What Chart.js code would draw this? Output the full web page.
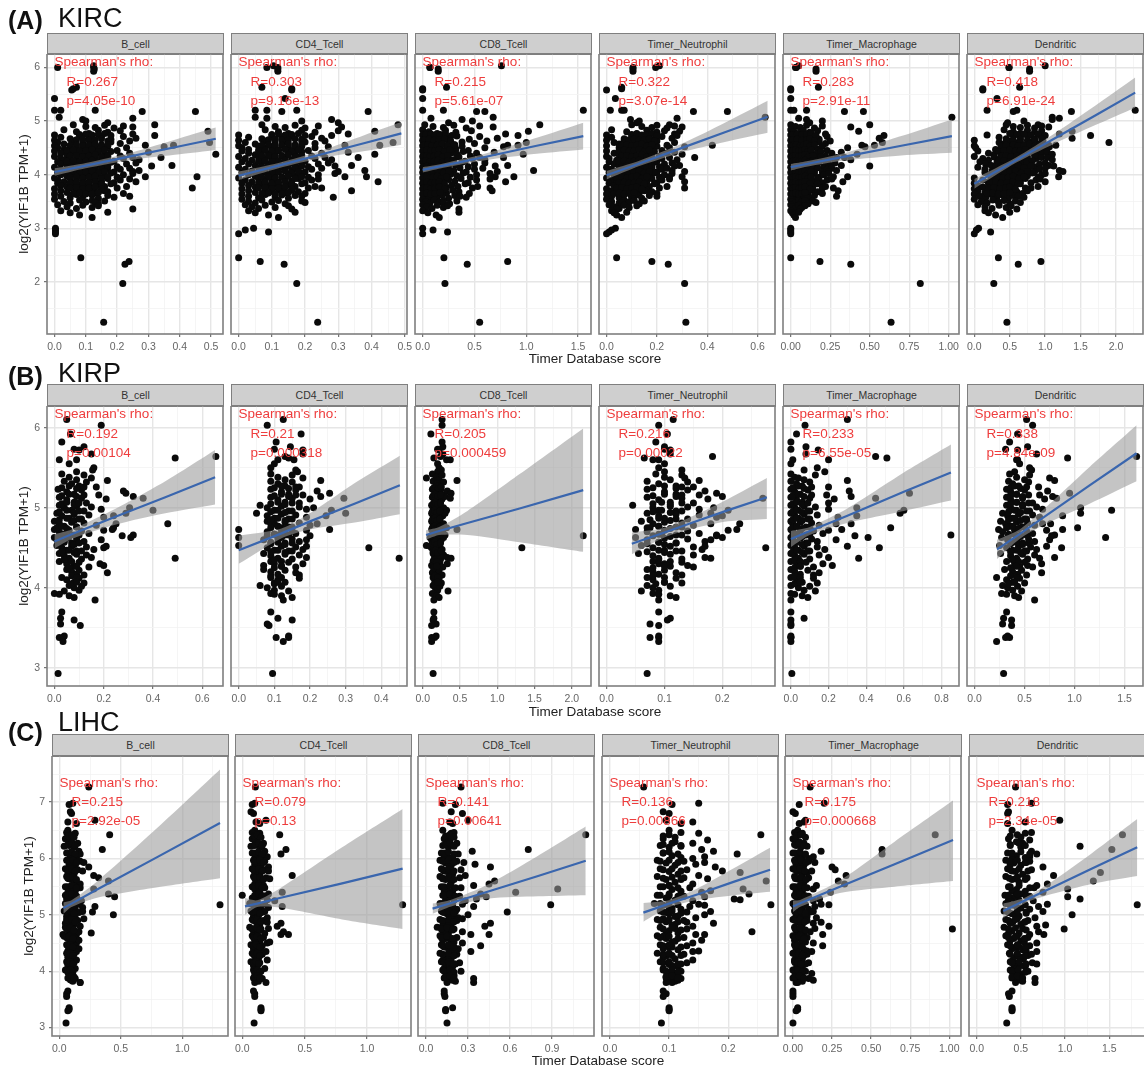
<!DOCTYPE html>
<html><head><meta charset="utf-8">
<script src="https://cdn.jsdelivr.net/npm/chart.js@4"></script>
<style>
html,body{margin:0;padding:0;background:#fff;width:1144px;height:1069px;overflow:hidden}
#page{position:relative;width:1144px;height:1069px;overflow:hidden;font-family:"Liberation Sans",Arial,sans-serif;filter:blur(0.4px)}
#page canvas{position:absolute}
.t{position:absolute;white-space:nowrap;line-height:1}
.strip{position:absolute;box-sizing:border-box;background:#cfcfcf;border:1.5px solid #7f7f7f;border-bottom-width:2px;color:#333;font-size:10.5px;display:flex;align-items:center;justify-content:center}
.red{color:#ee3d3d;font-size:13.5px}
</style></head><body><div id="page"></div>
<script>
const cellTypes=['B_cell','CD4_Tcell','CD8_Tcell','Timer_Neutrophil','Timer_Macrophage','Dendritic'];

/* ---------- KIRC ---------- */
const yKIRC=[6.03,6.0,6.0,5.97,5.93,5.63,5.6,5.58,5.42,5.2,5.2,5.2,5.18,5.18,5.07,5.05,5.03,5.0,4.97,4.93,
4.93,4.9,4.88,4.92,4.87,4.91,4.89,
4.84,4.8,4.77,4.83,4.79,4.82,4.76,4.81,
4.74,4.7,4.67,4.73,4.69,4.72,4.66,4.71,4.68,4.73,
4.64,4.6,4.57,4.63,4.59,4.62,4.56,4.61,4.58,4.63,4.55,4.6,
4.54,4.5,4.47,4.53,4.49,4.52,4.46,4.51,4.48,4.53,4.45,4.5,4.52,4.55,
4.44,4.4,4.37,4.43,4.39,4.42,4.36,4.41,4.38,4.43,4.35,4.4,4.42,4.38,
4.34,4.3,4.27,4.33,4.29,4.32,4.26,4.31,4.28,4.33,4.25,4.3,4.32,4.32,4.28,
4.24,4.2,4.17,4.23,4.19,4.22,4.16,4.21,4.18,4.23,4.15,4.2,4.22,4.17,4.16,
4.14,4.1,4.07,4.13,4.09,4.12,4.06,4.11,4.08,4.13,4.05,4.1,4.12,4.08,4.06,
4.04,4.0,3.97,4.03,3.99,4.02,3.96,4.01,3.98,4.03,3.95,4.0,4.02,3.96,3.96,
3.94,3.9,3.87,3.93,3.89,3.92,3.86,3.91,3.88,3.93,3.85,3.9,3.92,3.87,
3.84,3.8,3.77,3.83,3.79,3.82,3.76,3.81,3.78,3.83,3.75,3.75,3.78,
3.74,3.7,3.67,3.73,3.69,3.72,3.66,3.71,3.68,3.65,3.7,
3.64,3.6,3.57,3.63,3.59,3.62,3.56,3.61,3.6,3.58,
3.54,3.5,3.47,3.53,3.49,3.52,3.46,3.51,3.48,
3.44,3.4,3.37,3.43,3.39,3.42,3.36,
3.33,3.29,3.25,3.2,3.3,
3.0,2.97,2.93,2.9,2.45,2.38,2.33,1.97,1.25,
4.75,4.76,4.74,4.75,4.77,4.73,
4.65,4.66,4.64,4.65,4.67,4.63,
4.55,4.56,4.54,4.55,4.57,4.53,4.56,
4.45,4.46,4.44,4.45,4.47,4.43,4.46,
4.35,4.36,4.34,4.35,4.37,4.33,4.36,
4.25,4.26,4.24,4.25,4.27,4.23,4.26,
4.15,4.16,4.14,4.15,4.17,4.13,4.16,
4.05,4.06,4.04,4.05,4.07,4.03,4.06,
3.95,3.96,3.94,3.95,3.97,3.93,3.96,
3.85,3.86,3.84,3.85,3.87,3.83,
3.75,3.76,3.74,3.75,3.77,3.73,
3.65,3.66,3.64,3.65,3.67];
const xKIRC_B=[.125,.01,.125,.127,.125,.07,.06,.055,0,0,.02,.13,.28,.45,.015,.25,.09,.1,.17,.32,
.06,.1,.13,.16,.19,.22,.25,
.03,.07,.11,.14,.17,.21,.25,.49,
0,.02,.05,.08,.11,.15,.18,.22,.26,.32,
0,.01,.03,.06,.09,.12,.15,.18,.21,.24,.29,.495,
0,.01,.03,.05,.07,.09,.11,.13,.15,.17,.2,.23,.35,.38,
0,.02,.04,.06,.08,.1,.12,.14,.16,.18,.21,.24,.3,.515,
0,.02,.03,.05,.07,.09,.11,.13,.15,.17,.19,.22,.25,.34,.27,
.01,.02,.04,.06,.08,.1,.12,.14,.16,.18,.2,.23,.26,.375,.31,
0,.02,.03,.05,.07,.09,.11,.13,.15,.17,.19,.21,.24,.27,.25,
.01,.02,.04,.06,.08,.1,.12,.14,.16,.18,.2,.22,.25,.29,.455,
0,.01,.03,.05,.07,.09,.11,.13,.15,.17,.19,.21,.24,.26,
.01,.02,.04,.06,.08,.1,.12,.14,.16,.18,.2,.44,.23,
0,.02,.04,.07,.09,.11,.13,.15,.17,.22,.16,
0,.02,.05,.07,.09,.12,.14,.17,.24,.19,
0,.03,.05,.08,.1,.12,.14,.16,.13,
.01,.04,.07,.09,.12,.14,.25,
.02,.05,.08,.12,.17,
.003,.003,.003,.003,.084,.238,.225,.218,.157,
.08,.1,.12,.14,.16,.18,
.07,.09,.11,.13,.15,.17,
.05,.07,.09,.11,.13,.15,.17,
.04,.06,.08,.1,.12,.14,.16,
.05,.07,.09,.11,.13,.15,.17,
.04,.06,.08,.1,.12,.14,.16,
.05,.07,.09,.11,.13,.15,.17,
.04,.06,.08,.1,.12,.14,.16,
.05,.07,.09,.11,.13,.15,.17,
.05,.07,.09,.11,.13,.15,
.05,.07,.09,.11,.13,.15,
.06,.08,.1,.12,.14];
const xKIRC_CD4=[.105,.085,.118,.118,.118,.07,.16,.16,.14,.05,.085,.175,.39,.13,.05,.085,.28,.19,.3,.48,
.07,.11,.14,.17,.2,.24,.31,
.08,.12,.15,.19,.23,.3,.33,.41,
0,.03,.07,.1,.13,.16,.19,.22,.25,.28,
0,.02,.05,.08,.11,.14,.17,.2,.23,.26,.32,.465,
0,.01,.03,.06,.08,.1,.12,.15,.17,.19,.21,.23,.27,.425,
.01,.03,.05,.07,.09,.11,.13,.15,.17,.19,.22,.25,.33,.41,
0,.02,.04,.06,.08,.1,.12,.14,.16,.18,.2,.23,.26,.36,.28,
.01,.03,.05,.07,.09,.11,.13,.15,.17,.19,.21,.24,.27,.34,.29,
0,.02,.04,.06,.08,.1,.12,.14,.16,.18,.2,.22,.25,.38,.3,
.01,.03,.05,.07,.09,.11,.13,.15,.17,.19,.21,.24,.29,.385,.32,
0,.02,.04,.06,.08,.1,.12,.14,.16,.18,.2,.22,.24,.42,
.01,.03,.05,.07,.09,.11,.13,.15,.17,.19,.21,.25,.23,
.01,.03,.05,.08,.1,.12,.14,.16,.18,.2,.34,
.01,.03,.06,.08,.11,.13,.15,.17,.19,.285,
.01,.03,.05,.07,.1,.12,.14,.19,.2,
.02,.04,.06,.08,.11,.15,.16,
.03,.05,.09,.12,.17,
.045,.02,.09,0,0,.065,.137,.175,.238,
.1,.12,.14,.16,.18,.2,
.09,.11,.13,.15,.17,.19,
.07,.09,.11,.13,.15,.17,.19,
.06,.08,.1,.12,.14,.16,.18,
.07,.09,.11,.13,.15,.17,.19,
.06,.08,.1,.12,.14,.16,.18,
.07,.09,.11,.13,.15,.17,.19,
.06,.08,.1,.12,.14,.16,.18,
.07,.09,.11,.13,.15,.17,.19,
.06,.08,.1,.12,.14,.16,
.06,.08,.1,.12,.14,.16,
.07,.09,.11,.13,.15];
const xKIRC_CD8=[.76,.07,.07,.15,.15,.23,0,0,0,0,.2,1.55,.52,.6,.68,.08,.38,.48,.25,1.13,
.02,.1,.2,.3,.42,.55,.68,
0,.06,.14,.22,.32,.47,.8,1.02,
0,.04,.1,.16,.24,.33,.45,.55,.72,.92,
0,.03,.08,.13,.19,.25,.31,.38,.5,.62,.82,1.0,
0,.02,.05,.09,.13,.17,.22,.27,.32,.38,.44,.6,.78,.92,
0,.03,.06,.1,.14,.18,.23,.28,.33,.39,.46,.52,.69,.97,
0,.02,.05,.08,.12,.16,.2,.25,.3,.35,.41,.48,.55,.78,.6,
0,.03,.06,.09,.13,.17,.22,.27,.32,.38,.44,.5,.6,.82,.7,
0,.02,.05,.08,.12,.16,.2,.25,.3,.36,.42,.5,.58,1.07,.72,
0,.03,.06,.09,.13,.17,.22,.27,.33,.39,.46,.52,.65,.88,.7,
0,.02,.05,.08,.12,.16,.2,.25,.31,.37,.44,.52,.65,.8,
0,.03,.06,.1,.14,.18,.23,.28,.34,.41,.48,.65,.53,
0,.02,.05,.09,.13,.18,.23,.29,.35,.45,.67,
0,.03,.06,.1,.14,.19,.25,.31,.36,.42,
0,.03,.07,.11,.16,.2,.26,.33,.2,
0,.04,.09,.14,.2,.24,.35,
0,.05,.13,.16,.35,
0,.1,.24,0,.205,.82,.43,.215,.55,
.03,.08,.12,.17,.22,.28,
.02,.06,.11,.16,.21,.27,
.01,.05,.09,.14,.19,.24,.3,
.01,.04,.08,.12,.16,.21,.26,
.01,.04,.07,.11,.15,.19,.24,
.01,.03,.07,.11,.15,.19,.24,
.01,.04,.07,.1,.14,.18,.23,
.01,.04,.07,.11,.15,.2,.25,
.01,.04,.07,.1,.14,.18,.23,
.01,.04,.08,.12,.16,.21,
.01,.04,.08,.12,.16,.21,
.01,.04,.08,.12,.17];
const xKIRC_Neu=[.21,.105,.195,.105,.105,.06,.06,0,.035,.015,.06,.07,.345,.48,.63,.28,.095,.13,.12,.25,
.1,.14,.18,.2,.24,.27,.3,
.02,.08,.12,.16,.2,.23,.27,.29,
0,.02,.07,.1,.13,.16,.19,.22,.26,.28,
0,.03,.05,.07,.09,.11,.13,.15,.17,.2,.24,.27,
0,.05,.06,.08,.1,.12,.14,.16,.18,.2,.22,.25,.31,.42,
0,.03,.05,.07,.09,.11,.13,.15,.17,.19,.21,.24,.27,.3,
0,.01,.04,.06,.08,.1,.12,.14,.16,.18,.2,.22,.25,.35,.28,
.01,.03,.05,.07,.09,.11,.13,.15,.17,.19,.21,.23,.26,.29,.27,
0,.02,.04,.06,.08,.1,.12,.14,.16,.18,.2,.22,.24,.26,.31,
.01,.03,.05,.07,.09,.11,.13,.15,.17,.19,.21,.23,.26,.3,.25,
0,.02,.04,.06,.08,.1,.12,.14,.16,.18,.2,.22,.25,.31,
.01,.03,.05,.07,.09,.11,.13,.15,.17,.19,.21,.31,.24,
0,.02,.04,.07,.09,.11,.13,.16,.18,.2,.15,
0,.02,.05,.07,.1,.12,.14,.17,.2,.1,
0,.02,.05,.07,.09,.11,.13,.15,.06,
.01,.03,.05,.07,.09,.12,.04,
.02,.03,.04,.06,.08,
.035,.02,.01,0,.04,.18,.245,.31,.315,
.1,.12,.14,.16,.18,.2,
.09,.11,.13,.15,.17,.19,
.06,.08,.1,.12,.14,.16,.18,
.05,.07,.09,.11,.13,.15,.17,
.06,.08,.1,.12,.14,.16,.18,
.05,.07,.09,.11,.13,.15,.17,
.06,.08,.1,.12,.14,.16,.18,
.05,.07,.09,.11,.13,.15,.17,
.04,.06,.08,.1,.12,.14,.16,
.05,.07,.09,.11,.13,.15,
.04,.06,.08,.1,.12,.14,
.03,.05,.07,.09,.11];
const xKIRC_Mac=[.05,.035,.03,.16,.16,.175,0,0,0,0,.1,.02,.34,.46,1.02,.05,.1,.2,.12,.5,
0,.03,.06,.1,.15,.2,.38,
0,.02,.05,.08,.12,.17,.22,.43,
0,.01,.03,.06,.09,.13,.18,.23,.56,.59,
0,.01,.03,.05,.08,.11,.14,.18,.22,.25,.53,.58,
0,.01,.02,.04,.06,.08,.11,.14,.17,.2,.23,.36,.47,.45,
0,.01,.02,.04,.06,.08,.1,.13,.16,.19,.22,.26,.32,.42,
0,.01,.02,.04,.06,.08,.1,.13,.16,.19,.22,.25,.29,.34,.38,
0,.01,.02,.03,.05,.07,.09,.12,.15,.18,.21,.24,.28,.32,.5,
0,.01,.02,.03,.05,.07,.09,.12,.15,.17,.2,.23,.26,.29,.24,
0,.01,.02,.03,.05,.07,.09,.11,.13,.15,.18,.21,.24,.27,.36,
0,.01,.02,.04,.06,.08,.1,.12,.14,.17,.2,.23,.26,.33,
0,.01,.02,.04,.06,.08,.1,.12,.14,.17,.2,.27,.22,
0,.01,.03,.05,.07,.09,.11,.14,.17,.2,.3,
0,.01,.03,.05,.07,.1,.12,.15,.29,.1,
0,.01,.03,.05,.07,.09,.11,.14,.16,
0,.01,.03,.05,.07,.09,.06,
0,.01,.02,.03,.05,
0,0,0,0,0,.185,.38,.82,.635,
.015,.04,.07,.1,.13,.16,
.015,.04,.07,.1,.12,.15,
.015,.035,.06,.08,.1,.12,.15,
.015,.03,.05,.07,.09,.11,.13,
.015,.03,.05,.07,.09,.11,.14,
.015,.03,.05,.07,.09,.11,.14,
.015,.03,.05,.07,.09,.11,.13,
.015,.03,.05,.07,.09,.11,.13,
.015,.03,.05,.07,.09,.11,.13,
.015,.03,.05,.07,.09,.12,
.015,.03,.05,.07,.09,.12,
.015,.03,.05,.07,.09];
const xKIRC_Den=[1.0,.49,.49,.78,.78,.64,.12,.12,.32,2.27,.18,.6,1.37,.55,1.1,1.2,1.1,.7,.47,.9,
.45,.55,.65,.75,.85,.95,1.05,
.42,.55,.65,.75,.85,.95,1.2,1.38,
.18,.35,.45,.55,.65,.75,.85,.95,1.38,1.64,
0,.35,.42,.5,.58,.65,.72,.8,.88,.97,1.05,1.9,
0,.02,.3,.38,.45,.52,.6,.67,.75,.82,.9,.98,1.06,1.15,
.05,.2,.28,.35,.42,.5,.57,.65,.72,.8,.87,.95,1.03,1.1,
0,.12,.2,.28,.35,.42,.5,.57,.65,.72,.8,.87,.95,1.03,1.1,
.08,.16,.24,.32,.4,.48,.55,.62,.7,.78,.85,.92,1.0,1.05,1.12,
.05,.15,.25,.32,.4,.47,.55,.62,.7,.77,.85,.92,1.0,1.2,1.25,
.15,.22,.3,.37,.45,.52,.6,.67,.75,.82,.9,.95,1.0,1.19,.5,
0,.12,.2,.27,.35,.42,.5,.57,.65,.72,.8,.87,.93,1.0,
0,.05,.12,.2,.27,.35,.42,.5,.57,.65,.72,.8,.9,
0,.05,.15,.22,.3,.38,.45,.52,.6,.68,.75,
0,.08,.16,.24,.32,.4,.48,.55,.62,.7,
0,.1,.18,.26,.34,.42,.5,.58,.65,
.05,.15,.25,.35,.45,.52,.6,
.15,.2,.3,.4,.5,
.06,.03,.23,0,.34,.94,.62,.275,.46,
.6,.7,.8,.9,.5,1.0,
.55,.65,.75,.85,.95,.45,
.45,.55,.62,.7,.78,.85,.92,
.42,.5,.58,.65,.72,.8,.88,
.38,.45,.52,.6,.68,.75,.85,
.34,.42,.5,.58,.66,.74,.82,
.3,.38,.46,.54,.62,.7,.8,
.27,.35,.43,.5,.58,.66,.75,
.24,.32,.4,.48,.55,.63,.7,
.22,.3,.38,.46,.54,.62,
.2,.28,.36,.44,.5,.58,
.18,.26,.34,.42,.5];
const xRangeKIRC=[[-.024,.538],[-.023,.507],[-.074,1.624],[-.03,.669],[-.049,1.065],[-.103,2.38]];
const xTicksKIRC=[['0.0','0.1','0.2','0.3','0.4','0.5'],['0.0','0.1','0.2','0.3','0.4','0.5'],['0.0','0.5','1.0','1.5'],['0.0','0.2','0.4','0.6'],['0.00','0.25','0.50','0.75','1.00'],['0.0','0.5','1.0','1.5','2.0']];
const yTicksKIRC=['2','3','4','5','6'];
const bandXKIRC=[[0,.1,.25,.4,.515],[0,.12,.25,.38,.49],[0,.2,.6,1.1,1.55],[0,.13,.3,.47,.64],[0,.1,.35,.7,1.02],[0,.6,1.1,1.7,2.27]];
const fitKIRC=[[4.05,4.17,4.35,4.53,4.67],[3.98,4.17,4.38,4.59,4.77],[4.09,4.17,4.33,4.54,4.72],[3.99,4.21,4.5,4.79,5.08],[4.14,4.2,4.34,4.54,4.72],[3.83,4.28,4.65,5.1,5.53]];
const upKIRC=[[4.12,4.22,4.42,4.68,4.88],[4.06,4.22,4.45,4.74,4.98],[4.14,4.21,4.39,4.69,4.97],[4.07,4.26,4.58,4.97,5.38],[4.2,4.25,4.41,4.72,5.03],[3.92,4.33,4.74,5.28,5.81]];
const loKIRC=[[3.98,4.12,4.28,4.38,4.46],[3.9,4.12,4.31,4.44,4.56],[4.04,4.13,4.27,4.39,4.47],[3.91,4.16,4.42,4.61,4.78],[4.08,4.15,4.27,4.36,4.41],[3.74,4.23,4.56,4.92,5.25]];
const rhoKIRC=['R=0.267','R=0.303','R=0.215','R=0.322','R=0.283','R=0.418'];
const pKIRC=['p=4.05e-10','p=9.16e-13','p=5.61e-07','p=3.07e-14','p=2.91e-11','p=6.91e-24'];

/* ---------- KIRP ---------- */
const yKIRP=[6.1,6.03,5.92,5.82,5.76,5.73,5.72,5.67,5.64,5.62,5.6,5.6,5.55,5.5,5.47,5.45,
5.42,5.38,5.35,5.41,5.37,
5.33,5.3,5.27,5.32,5.26,5.34,
5.23,5.2,5.17,5.22,5.16,5.21,5.18,
5.13,5.1,5.07,5.12,5.06,5.11,5.14,5.12,
5.03,5.0,4.97,5.02,4.96,5.01,4.98,5.0,4.97,
4.93,4.9,4.87,4.92,4.86,4.91,4.88,4.9,4.93,
4.83,4.8,4.77,4.82,4.76,4.81,4.78,4.8,4.8,4.75,
4.73,4.7,4.67,4.72,4.66,4.71,4.68,4.72,4.73,4.66,
4.63,4.6,4.57,4.62,4.56,4.61,4.58,4.6,4.65,4.63,
4.53,4.5,4.47,4.52,4.46,4.51,4.48,4.52,4.5,
4.43,4.4,4.37,4.42,4.36,4.41,4.38,4.37,
4.33,4.3,4.27,4.32,4.26,4.3,4.28,
4.23,4.2,4.17,4.22,4.16,4.19,
4.13,4.1,4.07,4.12,4.06,
4.03,4.0,3.97,4.02,3.96,
3.93,3.92,3.9,3.88,
3.85,3.7,3.62,3.6,3.55,3.53,3.4,3.38,3.38,3.33,2.93,
5.25,5.27,5.24,5.26,5.15,5.17,5.14,5.16,5.05,5.07,5.04,5.06,4.95,4.97,4.94,4.96,4.85,4.87,4.84,4.86,
4.75,4.77,4.74,4.76,4.65,4.67,4.64,4.66,4.55,4.57,4.54,4.56,4.45,4.47,4.44,4.46,
4.35,4.33,4.25,4.27,4.15,4.13,4.05,4.07];
const xKIRP_B=[.05,.19,.065,.03,.12,.08,.1,.15,.655,.49,.02,.09,.06,.16,.155,.09,
.03,.06,.09,.12,.15,
.04,.07,.1,.13,.17,.215,
.015,.05,.08,.11,.18,.28,.29,
.02,.05,.08,.11,.13,.21,.32,.36,
.02,.04,.07,.09,.12,.15,.19,.305,.4,
.01,.03,.06,.08,.11,.14,.2,.24,.29,
0,.02,.04,.07,.09,.12,.17,.25,.46,.24,
0,.02,.04,.06,.08,.11,.14,.2,.235,.32,
0,.01,.03,.05,.07,.09,.12,.19,.275,.31,
.01,.03,.05,.07,.09,.13,.16,.21,.2,
.02,.04,.06,.09,.11,.13,.15,.49,
.02,.05,.08,.1,.14,.185,.2,
.05,.07,.09,.1,.12,.215,
.03,.05,.08,.1,.12,
.06,.08,.1,.11,.04,
0,.02,.06,.08,
.165,.03,.025,.08,.025,.105,.04,.02,.035,.035,.015,
.03,.06,.09,.12,.03,.06,.09,.12,.03,.05,.08,.1,.02,.05,.08,.1,.02,.05,.08,.1,
.01,.03,.05,.09,.02,.04,.06,.1,.02,.04,.08,.1,.03,.06,.08,.11,
.04,.07,.06,.09,.07,.09,.07,.09];
const xKIRP_CD4=[.125,.08,.175,.105,.145,.1,.18,.18,.13,.14,.155,.11,.1,.09,.16,.165,
.09,.11,.13,.15,.18,
.09,.11,.13,.15,.17,.23,
.09,.12,.14,.16,.18,.22,.255,
.09,.11,.13,.15,.17,.2,.23,.295,
.06,.08,.1,.12,.14,.17,.19,.21,.26,
.05,.08,.1,.12,.14,.16,.19,.245,.3,
.08,.1,.11,.13,.15,.17,.2,.22,.09,.12,
0,.08,.1,.12,.13,.15,.16,.19,.255,.11,
0,.07,.09,.11,.13,.15,.17,.19,.2,.12,
0,.08,.1,.12,.14,.16,.18,.19,.365,
.07,.09,.11,.13,.15,.17,.19,.45,
.09,.1,.12,.14,.16,.18,.07,
.07,.09,.11,.13,.17,.16,
.09,.11,.13,.17,.1,
.06,.08,.1,.12,.14,
.09,.1,.12,.15,
.125,.09,.11,.15,.08,.085,.14,.105,.14,.125,.095,
.1,.12,.14,.16,.1,.12,.14,.16,.09,.11,.13,.15,.09,.11,.13,.15,.09,.11,.13,.15,
.09,.11,.13,.14,.08,.1,.12,.14,.09,.11,.13,.15,.09,.11,.13,.15,
.1,.12,.1,.12,.09,.12,.1,.11];
const xKIRP_CD8=[.26,.26,.11,.26,.27,.2,.22,.27,.24,.15,.37,.32,.2,.22,.25,.2,
.13,.18,.22,.26,.05,
.14,.19,.23,.28,.18,.46,
.13,.16,.2,.24,.28,.33,.38,
.13,.16,.18,.2,.23,.26,.3,.37,
.12,.14,.16,.18,.2,.22,.25,.28,.32,
.12,.14,.16,.18,.2,.22,.24,.27,.3,
.12,.14,.15,.17,.19,.21,.23,.25,.28,.32,
.12,.14,.16,.18,.2,.22,.24,.27,.46,.3,
.1,.12,.14,.16,.18,.2,.22,.25,2.153,.28,
.05,.12,.15,.18,.2,.23,.26,.1,1.33,
.14,.16,.18,.2,.24,.28,.33,.38,
.14,.17,.2,.23,.27,.33,.12,
.15,.18,.2,.22,.26,.13,
.14,.16,.19,.22,.25,
.14,.17,.2,.23,.34,
.13,.16,.19,.22,
.15,.15,.15,.14,.18,.12,.18,.12,.16,.12,.14,
.15,.18,.21,.25,.14,.17,.2,.24,.14,.17,.2,.24,.13,.16,.19,.23,.13,.16,.19,.23,
.13,.16,.19,.23,.12,.15,.19,.23,.13,.16,.19,.24,.14,.17,.2,.25,
.15,.19,.15,.19,.16,.2,.16,.2];
const xKIRP_Neu=[.115,.09,.105,.085,.1,.1,.11,.11,.183,.065,.08,.09,.1,.09,.13,.1,
.085,.1,.11,.13,.135,
.07,.09,.12,.14,.15,.16,
.07,.1,.12,.14,.16,.17,.19,
.07,.09,.11,.13,.15,.175,.2,.27,
.045,.08,.09,.11,.12,.14,.16,.185,.21,
.07,.09,.1,.12,.14,.16,.19,.2,.18,
.06,.08,.09,.1,.12,.13,.15,.18,.23,.07,
.05,.07,.09,.1,.12,.14,.16,.21,.225,.19,
.05,.07,.09,.1,.12,.14,.17,.18,.19,.2,
.06,.08,.1,.11,.13,.15,.165,.17,.275,
.055,.08,.09,.11,.13,.15,.17,.18,
.08,.1,.11,.13,.15,.09,.14,
.07,.08,.09,.1,.13,.12,
.07,.08,.1,.12,.13,
.07,.08,.09,.11,.06,
.08,.09,.11,.12,
.09,.09,.11,.105,.075,.09,.09,.075,.09,.09,.07,
.08,.1,.12,.13,.08,.1,.12,.13,.08,.095,.11,.13,.08,.095,.11,.13,.075,.09,.11,.12,
.075,.09,.11,.13,.08,.095,.11,.13,.07,.09,.1,.12,.07,.09,.1,.12,
.09,.11,.08,.1,.08,.1,.085,.1];
const xKIRP_Mac=[.3,.075,.03,0,.08,0,.145,.08,.45,.51,.2,.01,0,.14,.07,.18,
0,.02,.07,.13,.04,
0,.03,.06,.1,.2,.3,
0,.02,.05,.09,.19,.31,.63,
0,.03,.06,.1,.2,.23,.32,.45,
0,.02,.04,.07,.1,.13,.2,.35,.6,
0,.02,.04,.07,.1,.14,.25,.35,.58,
0,.01,.03,.05,.08,.11,.15,.24,.32,.53,
0,.01,.03,.05,.08,.12,.17,.2,.27,.85,
0,.01,.03,.05,.08,.11,.14,.24,.34,.41,
0,.02,.04,.07,.1,.14,.18,.3,.47,
0,.02,.04,.07,.1,.15,.2,.36,
0,.03,.05,.08,.12,.17,.22,
0,.02,.05,.09,.12,.15,
0,.03,.06,.12,.14,
0,.04,.07,.1,.13,
0,.02,.06,.09,
0,0,.07,0,0,0,0,0,0,0,.005,
.01,.04,.07,.11,.01,.04,.07,.11,.01,.03,.06,.09,.01,.03,.06,.09,.01,.03,.06,.09,
.01,.03,.06,.1,.01,.03,.06,.1,.01,.03,.06,.09,.01,.03,.06,.09,
.02,.05,.02,.05,.02,.05,.02,.05];
const xKIRP_Den=[.52,.58,.43,.35,.53,.31,.43,.62,1.62,.93,.42,.43,.45,.55,.57,.4,
.35,.42,.5,.55,.75,
.34,.38,.44,.54,.64,.8,
.32,.36,.42,.5,.65,.73,.95,
.32,.36,.42,.48,.58,.7,.78,.82,
.32,.36,.42,.48,.55,.62,.68,1.06,1.37,
.28,.33,.38,.44,.5,.58,.65,.88,1.06,
.26,.31,.36,.42,.47,.53,.6,.68,.76,1.03,
.24,.28,.34,.4,.46,.52,.58,.72,.88,.8,
.27,.33,.38,.43,.48,.54,.6,.75,.77,1.31,
.25,.32,.38,.44,.5,.56,.62,.72,.87,
.26,.36,.42,.48,.53,.6,.8,.65,
.32,.4,.45,.5,.58,.67,.53,
.3,.38,.43,.47,.52,.67,
.22,.32,.38,.45,.5,
.28,.33,.38,.43,.47,
.27,.32,.4,.44,
.6,.32,.29,.37,.28,.37,.33,.31,.35,.22,.29,
.36,.4,.46,.52,.36,.42,.48,.54,.36,.42,.48,.54,.34,.4,.46,.52,.34,.4,.46,.52,
.32,.38,.44,.5,.34,.4,.46,.52,.36,.42,.48,.54,.36,.42,.46,.52,
.38,.44,.36,.42,.36,.42,.34,.4];
const xRangeKIRP=[[-.03,.684],[-.0216,.472],[-.103,2.257],[-.0132,.291],[-.042,.893],[-.076,1.684]];
const xTicksKIRP=[['0.0','0.2','0.4','0.6'],['0.0','0.1','0.2','0.3','0.4'],['0.0','0.5','1.0','1.5','2.0'],['0.0','0.1','0.2'],['0.0','0.2','0.4','0.6','0.8'],['0.0','0.5','1.0','1.5']];
const yTicksKIRP=['3','4','5','6'];
const bandXKIRP=[[0,.07,.25,.45,.652],[0,.12,.2,.33,.452],[.045,.22,.6,1.3,2.153],[.0435,.1,.15,.21,.277],[0,.1,.3,.6,.85],[.224,.45,.7,1.15,1.62]];
const fitKIRP=[[4.58,4.67,4.89,5.13,5.38],[4.47,4.68,4.83,5.06,5.28],[4.66,4.71,4.81,4.99,5.22],[4.55,4.69,4.82,4.97,5.13],[4.61,4.71,4.9,5.2,5.44],[4.48,4.67,4.89,5.28,5.68]];
const upKIRP=[[4.67,4.73,4.99,5.33,5.72],[4.65,4.74,4.93,5.32,5.65],[4.72,4.76,4.96,5.42,5.99],[4.69,4.75,4.9,5.11,5.37],[4.71,4.76,4.99,5.44,5.79],[4.6,4.73,4.99,5.51,6.03]];
const loKIRP=[[4.49,4.61,4.79,4.93,5.04],[4.3,4.62,4.73,4.82,4.92],[4.6,4.66,4.66,4.57,4.45],[4.42,4.63,4.74,4.83,4.86],[4.51,4.66,4.81,4.96,5.09],[4.36,4.61,4.79,5.05,5.33]];
const rhoKIRP=['R=0.192','R=0.21','R=0.205','R=0.216','R=0.233','R=0.338'];
const pKIRP=['p=0.00104','p=0.000318','p=0.000459','p=0.00022','p=6.55e-05','p=4.84e-09'];

/* ---------- LIHC ---------- */
const yLIHC=[7.27,6.98,6.96,6.83,6.8,6.68,6.65,6.62,
6.5,6.45,6.42,6.46,
6.35,6.3,6.27,6.33,
6.23,6.2,6.16,6.22,6.13,
6.1,6.05,6.02,6.08,6.0,6.03,
5.97,5.92,5.88,5.95,5.85,5.9,5.93,
5.82,5.77,5.72,5.8,5.7,5.75,5.78,
5.68,5.63,5.58,5.66,5.55,5.6,5.64,5.52,
5.5,5.45,5.42,5.48,5.4,5.46,5.43,5.37,
5.35,5.3,5.26,5.33,5.25,5.28,5.32,5.27,5.34,
5.2,5.17,5.12,5.18,5.1,5.15,5.19,5.17,5.13,
5.07,5.02,4.98,5.05,4.95,5.0,5.04,4.97,5.06,
4.92,4.88,4.83,4.9,4.8,4.85,4.93,4.82,4.87,
4.78,4.72,4.68,4.75,4.65,4.7,4.65,4.67,4.76,
4.63,4.58,4.53,4.6,4.5,4.55,4.62,4.52,
4.47,4.42,4.38,4.45,4.35,4.4,4.43,4.36,
4.32,4.27,4.22,4.3,4.2,4.25,4.28,
4.17,4.12,4.08,4.15,4.05,4.1,4.13,
4.02,3.98,3.93,4.0,3.9,3.96,
3.88,3.85,3.82,3.87,3.8,3.84,
3.8,3.65,3.6,3.55,3.35,3.32,3.3,3.08,
6.4,6.42,6.38,6.25,6.27,6.23,6.1,6.12,6.08,5.95,5.97,5.93,5.8,5.82,5.78,5.65,5.67,5.63,
5.5,5.52,5.48,5.35,5.37,5.33,5.2,5.22,5.18,5.05,5.07,5.03,4.9,4.92,4.88,4.75,4.77,4.73,
4.6,4.62,4.58,4.45,4.47,4.43,4.3,4.32,4.28,4.15,4.17,4.13,4.0,4.02,3.98,3.9,3.92,3.88];
const xLIHC_B=[.24,.11,.08,.09,.1,.29,.07,.14,
.07,.13,.41,.06,
.05,.1,.15,.09,
.08,.12,.35,.04,.16,
.06,.1,.14,.17,.11,.09,
.06,.1,.13,.17,.24,.08,.2,
.05,.09,.12,.15,.28,.07,.19,
.06,.1,.14,.32,.17,.4,.08,.12,
.05,.09,.13,.17,.07,.28,.11,.4,
.05,.08,.11,.14,.18,.06,.45,.1,.13,
.05,.08,.1,1.307,.13,.29,.16,.07,.19,
.04,.07,.1,.27,.13,.44,.16,.06,.19,
.06,.09,.12,.15,.17,.05,.2,.08,.11,
.05,.08,.26,.11,.14,.16,.03,.1,.07,
.05,.07,.09,.12,.14,.16,.04,.1,
.06,.08,.1,.12,.14,.16,.09,.07,
.06,.08,.1,.12,.14,.07,.11,
.06,.08,.1,.12,.13,.07,.09,
.05,.07,.09,.11,.12,.08,
.07,.09,.11,.13,.17,.1,
.17,.07,.06,.06,.08,.08,.07,.055,
.07,.1,.12,.07,.1,.13,.07,.1,.13,.08,.11,.14,.07,.1,.13,.07,.11,.14,
.07,.1,.14,.07,.1,.14,.06,.09,.12,.06,.09,.12,.07,.1,.13,.06,.09,.12,
.06,.08,.11,.07,.09,.11,.07,.09,.11,.07,.09,.11,.07,.09,.11,.08,.1,.12];
const xLIHC_CD4=[.105,.1,.08,.07,.09,.19,.11,.14,
.1,.14,.3,.08,
.08,.12,.17,.1,
.1,.14,.35,.07,.18,
.08,.12,.16,.31,.1,.2,
.09,.12,.15,.18,.21,.1,.13,
.08,.11,.14,.18,.4,.1,.21,
.09,.12,.15,.19,.1,.13,.22,.17,
.08,.11,.14,.18,.32,.1,.13,.21,
0,.08,.12,.15,.26,.1,.13,.2,.17,
.06,.09,.12,1.284,.15,.32,.18,.1,.21,
.07,.1,.13,.16,.2,.12,.15,.09,.18,
.08,.11,.14,.17,.28,.31,.1,.13,.2,
.06,.09,.12,.15,.31,.33,.37,.18,.21,
.08,.11,.14,.17,.2,.1,.13,.22,
.07,.1,.13,.16,.19,.09,.12,.15,
.08,.1,.13,.16,.2,.11,.14,
.07,.1,.12,.14,.18,.09,.11,
.09,.11,.13,.15,.12,.1,
.09,.11,.13,.16,.1,.12,
.19,.09,.1,.1,.15,.15,.15,.095,
.1,.12,.15,.1,.13,.16,.1,.13,.16,.1,.14,.17,.09,.13,.16,.1,.14,.17,
.1,.13,.16,.1,.13,.16,.08,.11,.14,.08,.11,.14,.09,.12,.15,.08,.11,.14,
.09,.12,.15,.09,.11,.14,.09,.12,.14,.09,.11,.13,.1,.12,.14,.1,.12,.14];
const xLIHC_CD8=[.25,.12,.21,.18,.26,.3,.17,.19,
.12,.18,1.14,.2,
.13,.17,.22,.16,
.12,.16,.73,.2,.33,
.11,.15,.19,.23,.17,.13,
.1,.14,.18,.22,.46,.35,.27,
.11,.15,.19,.25,.28,.17,.13,
.1,.14,.18,.24,.45,.49,.12,.34,
.11,.15,.19,.25,.64,.94,.13,.39,
.12,.16,.2,.24,.28,.36,.43,.14,.18,
.1,.14,.18,.89,.22,.34,.26,.16,.12,
.11,.15,.19,.58,.23,.3,.13,.17,.21,
.1,.14,.18,.22,.42,.46,.26,.12,.16,
.08,.12,.16,.2,.45,.26,.32,.14,.18,
.1,.14,.18,.22,.26,.12,.16,.2,
.11,.15,.19,.39,.32,.23,.13,.17,
.1,.14,.18,.22,.12,.16,.2,
.11,.15,.19,.24,.13,.17,.21,
.12,.16,.2,.25,.14,.18,
.13,.17,.21,.34,.15,.19,
.34,.13,.13,.135,.19,.14,.14,.15,
.14,.17,.2,.14,.17,.2,.13,.16,.2,.12,.16,.2,.12,.16,.2,.12,.16,.2,
.13,.17,.21,.13,.17,.21,.12,.15,.19,.12,.16,.2,.12,.16,.2,.11,.15,.19,
.11,.15,.19,.12,.16,.2,.12,.16,.2,.13,.16,.2,.13,.17,.2,.14,.17,.2];
const xLIHC_Neu=[.057,.15,.105,.09,.1,.095,.14,.12,
.1,.15,.255,.12,
.09,.11,.14,.165,
.085,.1,.155,.12,.175,
.09,.105,.12,.215,.14,.16,
.08,.095,.11,.125,.178,.145,.16,
.085,.1,.115,.13,.15,.22,.19,
.08,.095,.11,.125,.14,.264,.165,.1,
.09,.105,.12,.135,.155,.225,.17,.235,
.08,.095,.11,.125,.14,.21,.16,.22,.1,
.075,.09,.105,.272,.12,.135,.15,.16,.1,
.085,.1,.115,.13,.145,.16,.095,.11,.17,
.08,.095,.11,.125,.14,.175,.09,.105,.13,
.085,.1,.115,.13,.145,.24,.16,.095,.11,
.08,.095,.11,.125,.14,.155,.09,.105,
.085,.1,.115,.13,.14,.09,.105,.15,
.08,.095,.11,.125,.14,.09,.105,
.085,.1,.115,.13,.09,.105,.12,
.09,.1,.115,.12,.095,.11,
.095,.1,.11,.12,.105,.115,
.095,.09,.095,.09,.1,.1,.1,.087,
.09,.1,.11,.09,.105,.12,.09,.1,.115,.085,.1,.115,.09,.105,.12,.09,.105,.12,
.085,.1,.115,.085,.1,.115,.085,.1,.115,.09,.105,.12,.085,.1,.115,.09,.105,.12,
.085,.1,.115,.09,.1,.12,.09,.1,.12,.09,.1,.115,.095,.105,.115,.095,.105,.115];
const xLIHC_Mac=[.11,.2,.04,0,.015,.08,.07,.04,
.03,.06,.91,.01,
0,.04,.07,.02,
.02,.05,.57,.09,.18,
0,.03,.06,.57,.1,.13,
.01,.04,.07,.1,.25,.02,.14,
0,.03,.06,.27,.34,.09,.12,
.01,.04,.07,.1,.33,.29,.02,.15,
0,.03,.06,.09,.24,.13,.02,.05,
.01,.04,.07,.1,.13,.17,.02,.05,.08,
0,.03,.06,.23,.1,.14,.18,.01,.05,
.01,.04,.07,.11,.15,.02,.05,.09,.13,
0,.03,.06,.09,.23,.13,.01,.05,.18,
.01,.04,.07,1.02,.19,.11,.02,.05,.14,
0,.03,.06,.09,.13,.01,.05,.08,
.01,.04,.07,.19,.12,.02,.05,.09,
0,.03,.06,.09,.01,.04,.07,
.01,.03,.06,.1,.02,.04,.08,
0,.02,.05,.08,.01,.12,
0,.03,.06,.1,.02,.13,
.03,0,0,0,.03,.03,.02,0,
.02,.05,.08,.01,.04,.07,.015,.045,.08,.015,.05,.085,.015,.045,.075,.015,.05,.085,
.015,.045,.075,.015,.045,.075,.02,.045,.08,.02,.05,.08,.015,.045,.075,.015,.045,.08,
.015,.04,.07,.015,.03,.06,.015,.035,.06,.015,.03,.05,.01,.03,.06,.01,.04,.07];
const xLIHC_Den=[.44,.62,.35,.36,.35,.94,.55,.35,
.4,.55,1.65,.62,
.36,.45,.52,.6,
.38,.5,1.53,1.17,.62,
.35,.45,.55,.68,.4,.6,
.33,.42,.5,.6,.75,.38,.55,
.35,.44,.52,.62,.87,1.4,.4,
.33,.4,.48,.57,.8,1.32,.44,.68,
.36,.45,.55,.65,.75,1.03,.4,.5,
.32,.4,.48,.56,.64,1.17,1.03,.36,.44,
.33,.42,.5,1.817,.6,.7,.8,.38,.46,
.31,.4,.48,.56,.66,1.08,.36,.44,.75,
.33,.41,.5,.58,.68,.38,.46,.78,.54,
.31,.4,.48,.99,.6,.7,.76,.36,.52,
.33,.42,.5,.58,.68,.38,.46,.54,
.35,.43,.52,.6,.68,.4,.48,.56,
.37,.45,.53,.62,.41,.5,.58,
.38,.46,.55,.63,.42,.5,.68,
.38,.44,.5,.58,.42,.48,
.4,.46,.52,.66,.44,.5,
.66,.4,.36,.37,.4,.4,.4,.34,
.38,.46,.5,.38,.48,.55,.4,.5,.6,.37,.46,.56,.38,.48,.58,.37,.46,.55,
.38,.48,.6,.36,.46,.6,.36,.44,.55,.36,.46,.56,.36,.44,.55,.36,.44,.56,
.36,.44,.54,.38,.46,.55,.38,.46,.55,.4,.48,.56,.4,.47,.55,.4,.46,.52];
const xRangeLIHC=[[-.059,1.372],[-.058,1.351],[-.057,1.199],[-.0134,.284],[-.051,1.075],[-.087,1.905]];
const xTicksLIHC=[['0.0','0.5','1.0'],['0.0','0.5','1.0'],['0.0','0.3','0.6','0.9'],['0.0','0.1','0.2'],['0.00','0.25','0.50','0.75','1.00'],['0.0','0.5','1.0','1.5']];
const yTicksLIHC=['3','4','5','6','7'];
const bandXLIHC=[[.033,.1,.3,.8,1.307],[.022,.12,.3,.8,1.284],[.047,.18,.45,.8,1.14],[.0565,.1,.15,.21,.2706],[0,.05,.3,.65,1.024],[.3,.55,.85,1.3,1.817]];
const fitLIHC=[[5.12,5.2,5.44,6.03,6.63],[5.15,5.2,5.3,5.56,5.82],[5.11,5.21,5.42,5.69,5.96],[5.04,5.2,5.37,5.59,5.8],[5.15,5.21,5.5,5.9,6.33],[5.07,5.26,5.48,5.82,6.2]];
const upLIHC=[[5.22,5.26,5.58,6.55,7.58],[5.3,5.26,5.47,6.2,6.88],[5.2,5.27,5.55,6.05,6.57],[5.21,5.26,5.48,5.83,6.19],[5.25,5.27,5.61,6.3,7.03],[5.2,5.31,5.59,6.09,6.7]];
const loLIHC=[[5.02,5.14,5.3,5.49,5.65],[5.0,5.14,5.13,4.92,4.75],[5.02,5.15,5.29,5.33,5.35],[4.88,5.14,5.27,5.35,5.41],[5.05,5.15,5.39,5.5,5.6],[4.94,5.21,5.37,5.55,5.69]];
const rhoLIHC=['R=0.215','R=0.079','R=0.141','R=0.136','R=0.175','R=0.218'];
const pLIHC=['p=2.92e-05','p=0.13','p=0.00641','p=0.00866','p=0.000668','p=2.34e-05'];

/* ---------- layout (not data) ---------- */
const rows=[
 {tag:'(A)',name:'KIRC',tagY:20,nameY:18,y:yKIRC,xs:[xKIRC_B,xKIRC_CD4,xKIRC_CD8,xKIRC_Neu,xKIRC_Mac,xKIRC_Den],xr:xRangeKIRC,xt:xTicksKIRC,yt:yTicksKIRC,yr:[1.03,6.25],bx:bandXKIRC,fit:fitKIRC,up:upKIRC,lo:loKIRC,rho:rhoKIRC,p:pKIRC,
  lefts:[47,231,415,599,783,967],stripTop:33,top:54,bottom:334,ann:[62,82,101],titleX:595,titleY:359},
 {tag:'(B)',name:'KIRP',tagY:376,nameY:373,y:yKIRP,xs:[xKIRP_B,xKIRP_CD4,xKIRP_CD8,xKIRP_Neu,xKIRP_Mac,xKIRP_Den],xr:xRangeKIRP,xt:xTicksKIRP,yt:yTicksKIRP,yr:[2.775,6.27],bx:bandXKIRP,fit:fitKIRP,up:upKIRP,lo:loKIRP,rho:rhoKIRP,p:pKIRP,
  lefts:[47,231,415,599,783,967],stripTop:384,top:406,bottom:686,ann:[414,434,453],titleX:595,titleY:712},
 {tag:'(C)',name:'LIHC',tagY:732,nameY:722,y:yLIHC,xs:[xLIHC_B,xLIHC_CD4,xLIHC_CD8,xLIHC_Neu,xLIHC_Mac,xLIHC_Den],xr:xRangeLIHC,xt:xTicksLIHC,yt:yTicksLIHC,yr:[2.85,7.82],bx:bandXLIHC,fit:fitLIHC,up:upLIHC,lo:loLIHC,rho:rhoLIHC,p:pLIHC,
  lefts:[52,235,418,602,785,969],stripTop:734,top:756,bottom:1036,ann:[783,802,821],titleX:598,titleY:1061}
];
const page=document.getElementById('page');
const W=176,PADL=52,BOTTOM=24,PADR=14;
function text(s,x,yc,cls,css){const d=document.createElement('div');d.className='t '+(cls||'');d.textContent=s;d.style.cssText+=`left:${x}px;top:${yc}px;transform:translateY(-50%);`+(css||'');page.appendChild(d);return d;}

const frame={id:'frame',afterDraw(c){const a=c.chartArea,g=c.ctx;g.save();g.strokeStyle='#7f7f7f';g.lineWidth=1.6;g.strokeRect(a.left,a.top,a.right-a.left,a.bottom-a.top);g.restore();}};
const problems=[];

function axis(labels,min,max,extra){
 const vals=labels.map(Number),step=vals[1]-vals[0];
 const isMajor=v=>vals.some(m=>Math.abs(m-v)<step*1e-4);
 const onGrid=v=>Math.abs(v/step-Math.round(v/step))<1e-4;
 return Object.assign({type:'linear',min,max,
  ticks:{stepSize:step/2,includeBounds:false,autoSkip:false,maxRotation:0,color:'#666',padding:4,font:{family:'"Liberation Sans"',size:10.5},
   callback:v=>{const i=vals.findIndex(m=>Math.abs(m-v)<step*1e-4);return i>=0?labels[i]:'';}},
  grid:{drawTicks:true,tickLength:3,
   color:c=>onGrid(c.tick.value)?'#e6e6e6':'#f2f2f2',
   lineWidth:c=>onGrid(c.tick.value)?1.4:.8,
   tickColor:c=>isMajor(c.tick.value)?'#555':'rgba(0,0,0,0)',tickWidth:1},
  border:{display:false}},extra||{});
}

rows.forEach(r=>{
 text(r.tag,8,r.tagY,'','font-size:25px;font-weight:bold;color:#111');
 text(r.name,58,r.nameY,'','font-size:27px;color:#111');
 const h=r.bottom-r.top;
 r.lefts.forEach((L,col)=>{
  const s=document.createElement('div');s.className='strip';s.textContent=cellTypes[col];
  s.style.cssText=`left:${L}px;top:${r.stripTop}px;width:${W+1}px;height:${r.top-r.stripTop+1}px`;page.appendChild(s);
  const cv=document.createElement('canvas');const cw=PADL+W+PADR,ch=h+BOTTOM;
  cv.width=cw;cv.height=ch;cv.style.cssText=`left:${L-PADL}px;top:${r.top}px;width:${cw}px;height:${ch}px`;page.appendChild(cv);
  const xs=r.xs[col];
  if(xs.length!==r.y.length)problems.push(r.name+col+':'+xs.length+'!='+r.y.length);
  const pts=xs.map((x,i)=>({x,y:r.y[i]}));
  const band=k=>r.bx[col].map((x,i)=>({x,y:r[k][col][i]}));
  const yAxis=axis(r.yt,r.yr[0],r.yr[1],{afterFit:sc=>{sc.width=PADL;sc.paddingTop=0;sc.paddingBottom=0;}});
  if(col===0){yAxis.title={display:true,text:'log2(YIF1B TPM+1)',color:'#222',font:{family:'"Liberation Sans"',size:13.5},padding:{top:21,bottom:0}};}
  else{yAxis.ticks.callback=()=>'';yAxis.grid.drawTicks=false;}
  new Chart(cv,{type:'scatter',plugins:[frame],
   data:{datasets:[
    {type:'line',label:'fit',data:band('fit'),borderColor:'#3A66AE',borderWidth:2.2,pointRadius:0,fill:false,order:0,tension:0},
    {type:'line',label:'ci upper',data:band('up'),borderWidth:0,borderColor:'rgba(0,0,0,0)',pointRadius:0,fill:'+1',backgroundColor:'rgba(153,153,153,.58)',order:1,tension:.25},
    {type:'line',label:'ci lower',data:band('lo'),borderWidth:0,borderColor:'rgba(0,0,0,0)',pointRadius:0,fill:false,order:2,tension:.25},
    {label:cellTypes[col],data:pts,pointRadius:3.5,pointBorderWidth:0,pointBackgroundColor:'#0a0a0a',order:3}
   ]},
   options:{responsive:false,animation:false,events:[],devicePixelRatio:1,
    layout:{autoPadding:false,padding:{left:0,right:PADR,top:0,bottom:0}},
    plugins:{legend:{display:false},tooltip:{enabled:false},title:{display:false}},
    scales:{x:axis(r.xt[col],r.xr[col][0],r.xr[col][1],{afterFit:sc=>{sc.height=BOTTOM;sc.paddingLeft=0;sc.paddingRight=0;}}),y:yAxis}}});
  text("Spearman's rho:",L+7.5,r.ann[0],'red');
  text(r.rho[col],L+19.5,r.ann[1],'red');
  text(r.p[col],L+19.5,r.ann[2],'red');
 });
 const t=text('Timer Database score',r.titleX,r.titleY,'','font-size:13.5px;color:#222');
 t.style.transform='translate(-50%,-50%)';
});
if(problems.length)throw new Error('length mismatch '+problems.join(' ; '));
</script></body></html>
